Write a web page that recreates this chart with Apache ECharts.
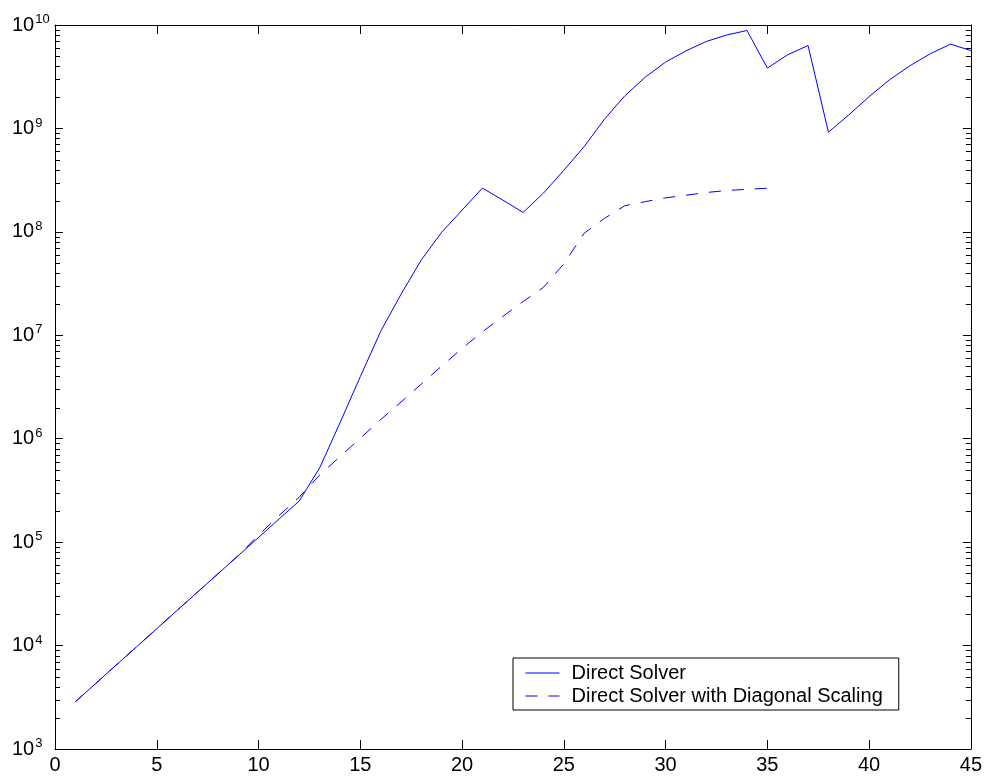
<!DOCTYPE html>
<html>
<head>
<meta charset="utf-8">
<script src="https://cdn.jsdelivr.net/npm/echarts@6/dist/echarts.min.js"></script>
<style>html,body{margin:0;padding:0;background:#fff}#c{width:985px;height:778px}</style>
</head>
<body>
<div id="c"></div>
<script>
const xValues = [1,2,3,4,5,6,7,8,9,10,11,12,13,14,15,16,17,18,19,20,21,22,23,24,25,26,27,28,29,30,31,32,33,34,35,36,37,38,39,40,41,42,43,44,45];
const directSolver = [2.86e3,4.30e3,6.46e3,9.70e3,1.456e4,2.19e4,3.28e4,4.93e4,7.40e4,1.11e5,1.67e5,2.50e5,5.21e5,1.42e6,3.98e6,1.09e7,2.49e7,5.36e7,9.93e7,1.62e8,2.65e8,2.03e8,1.54e8,2.37e8,3.94e8,6.68e8,1.23e9,2.07e9,3.13e9,4.38e9,5.62e9,6.93e9,8.00e9,8.85e9,3.83e9,5.15e9,6.34e9,9.20e8,1.35e9,2.03e9,2.95e9,4.03e9,5.27e9,6.53e9,5.66e9];
const diagonalScaling = [2.86e3,4.30e3,6.46e3,9.70e3,1.456e4,2.19e4,3.28e4,4.93e4,7.40e4,1.17e5,1.80e5,2.72e5,4.45e5,6.71e5,1.01e6,1.53e6,2.26e6,3.38e6,5.05e6,7.46e6,1.08e7,1.52e7,2.12e7,2.91e7,4.90e7,9.70e7,1.35e8,1.79e8,1.96e8,2.13e8,2.26e8,2.40e8,2.51e8,2.58e8,2.64e8];
const xTicks = [0,5,10,15,20,25,30,35,40,45];
const yDecades = [3,4,5,6,7,8,9,10];
const seriesNames = ['Direct Solver','Direct Solver with Diagonal Scaling'];

const minorTicks = [];
for (let e = 3; e < 10; e++) for (let k = 2; k <= 9; k++) minorTicks.push([0, k * Math.pow(10, e)]);

const FONT = '"Liberation Sans", Arial, sans-serif';
const chart = echarts.init(document.getElementById('c'));
const axisLineStyle = { color: '#000', width: 1 };

chart.setOption({
  animation: false,
  backgroundColor: '#fff',
  grid: { left: 55, right: 14, top: 25, bottom: 29, containLabel: false },
  xAxis: [
    { type: 'value', min: xTicks[0], max: xTicks[xTicks.length-1], interval: 5, position: 'bottom',
      axisLine: { show: true, onZero: false, lineStyle: axisLineStyle },
      axisTick: { show: true, inside: true, length: 9, lineStyle: axisLineStyle },
      axisLabel: { color: '#000', fontSize: 20, fontFamily: FONT, margin: 6 },
      splitLine: { show: false } },
    { type: 'value', min: xTicks[0], max: xTicks[xTicks.length-1], interval: 5, position: 'top',
      axisLine: { show: true, onZero: false, lineStyle: axisLineStyle },
      axisTick: { show: true, inside: true, length: 9, lineStyle: axisLineStyle },
      axisLabel: { show: false }, splitLine: { show: false } }
  ],
  yAxis: [
    { type: 'log', logBase: 10, min: Math.pow(10, yDecades[0]), max: Math.pow(10, yDecades[yDecades.length-1]), interval: 1, position: 'left',
      axisLine: { show: true, onZero: false, lineStyle: axisLineStyle },
      axisTick: { show: true, inside: true, length: 8, lineStyle: axisLineStyle },
      axisLabel: { color: '#000', margin: 43, align: 'left', fontFamily: FONT,
        formatter: v => '{b|10}{s|' + Math.round(Math.log10(v)) + '}',
        rich: { b: { fontSize: 20, lineHeight: 24, fontFamily: FONT, color: '#000' },
                s: { fontSize: 13, lineHeight: 13, fontFamily: FONT, color: '#000', verticalAlign: 'top', padding: [0,0,0,1] } } },
      splitLine: { show: false } },
    { type: 'log', logBase: 10, min: Math.pow(10, yDecades[0]), max: Math.pow(10, yDecades[yDecades.length-1]), interval: 1, position: 'right',
      axisLine: { show: true, onZero: false, lineStyle: axisLineStyle },
      axisTick: { show: true, inside: true, length: 8, lineStyle: axisLineStyle },
      axisLabel: { show: false }, splitLine: { show: false } }
  ],
  legend: {
    show: true, orient: 'vertical', left: 513, top: 658,
    data: seriesNames,
    backgroundColor: '#fff', borderColor: '#000', borderWidth: 1, borderRadius: 0,
    padding: [5, 16, 4, 12], itemGap: 3, itemWidth: 34, itemHeight: 14,
    itemStyle: { opacity: 0 },
    lineStyle: { width: 1 },
    textStyle: { color: '#000', fontSize: 20, lineHeight: 20, fontFamily: FONT, padding: [0,0,0,7] }
  },
  series: [
    { name: seriesNames[0], type: 'line', xAxisIndex: 0, yAxisIndex: 0, symbol: 'none', z: 3,
      lineStyle: { color: '#0000ff', width: 1, type: 'solid' }, itemStyle: { color: '#0000ff' },
      data: xValues.map((x, i) => [x, directSolver[i]]) },
    { name: seriesNames[1], type: 'line', xAxisIndex: 0, yAxisIndex: 0, symbol: 'none', z: 2,
      lineStyle: { color: '#0000ff', width: 1, type: [12, 11] }, itemStyle: { color: '#0000ff' },
      data: diagonalScaling.map((v, i) => [xValues[i], v]) },
    { name: 'minor', type: 'custom', xAxisIndex: 0, yAxisIndex: 0, silent: true, clip: false,
      encode: { x: 0, y: 1 },
      data: minorTicks,
      renderItem: (params, api) => {
        const v = api.value(1);
        const pl = api.coord([xTicks[0], v]);
        const pr = api.coord([xTicks[xTicks.length-1], v]);
        const st = { stroke: '#000', lineWidth: 1 };
        return { type: 'group', children: [
          { type: 'line', shape: { x1: pl[0], y1: Math.round(pl[1]) + 0.5, x2: pl[0] + 5, y2: Math.round(pl[1]) + 0.5 }, style: st },
          { type: 'line', shape: { x1: pr[0] - 5, y1: Math.round(pr[1]) + 0.5, x2: pr[0], y2: Math.round(pr[1]) + 0.5 }, style: st }
        ]};
      } }
  ]
});
</script>
</body>
</html>
